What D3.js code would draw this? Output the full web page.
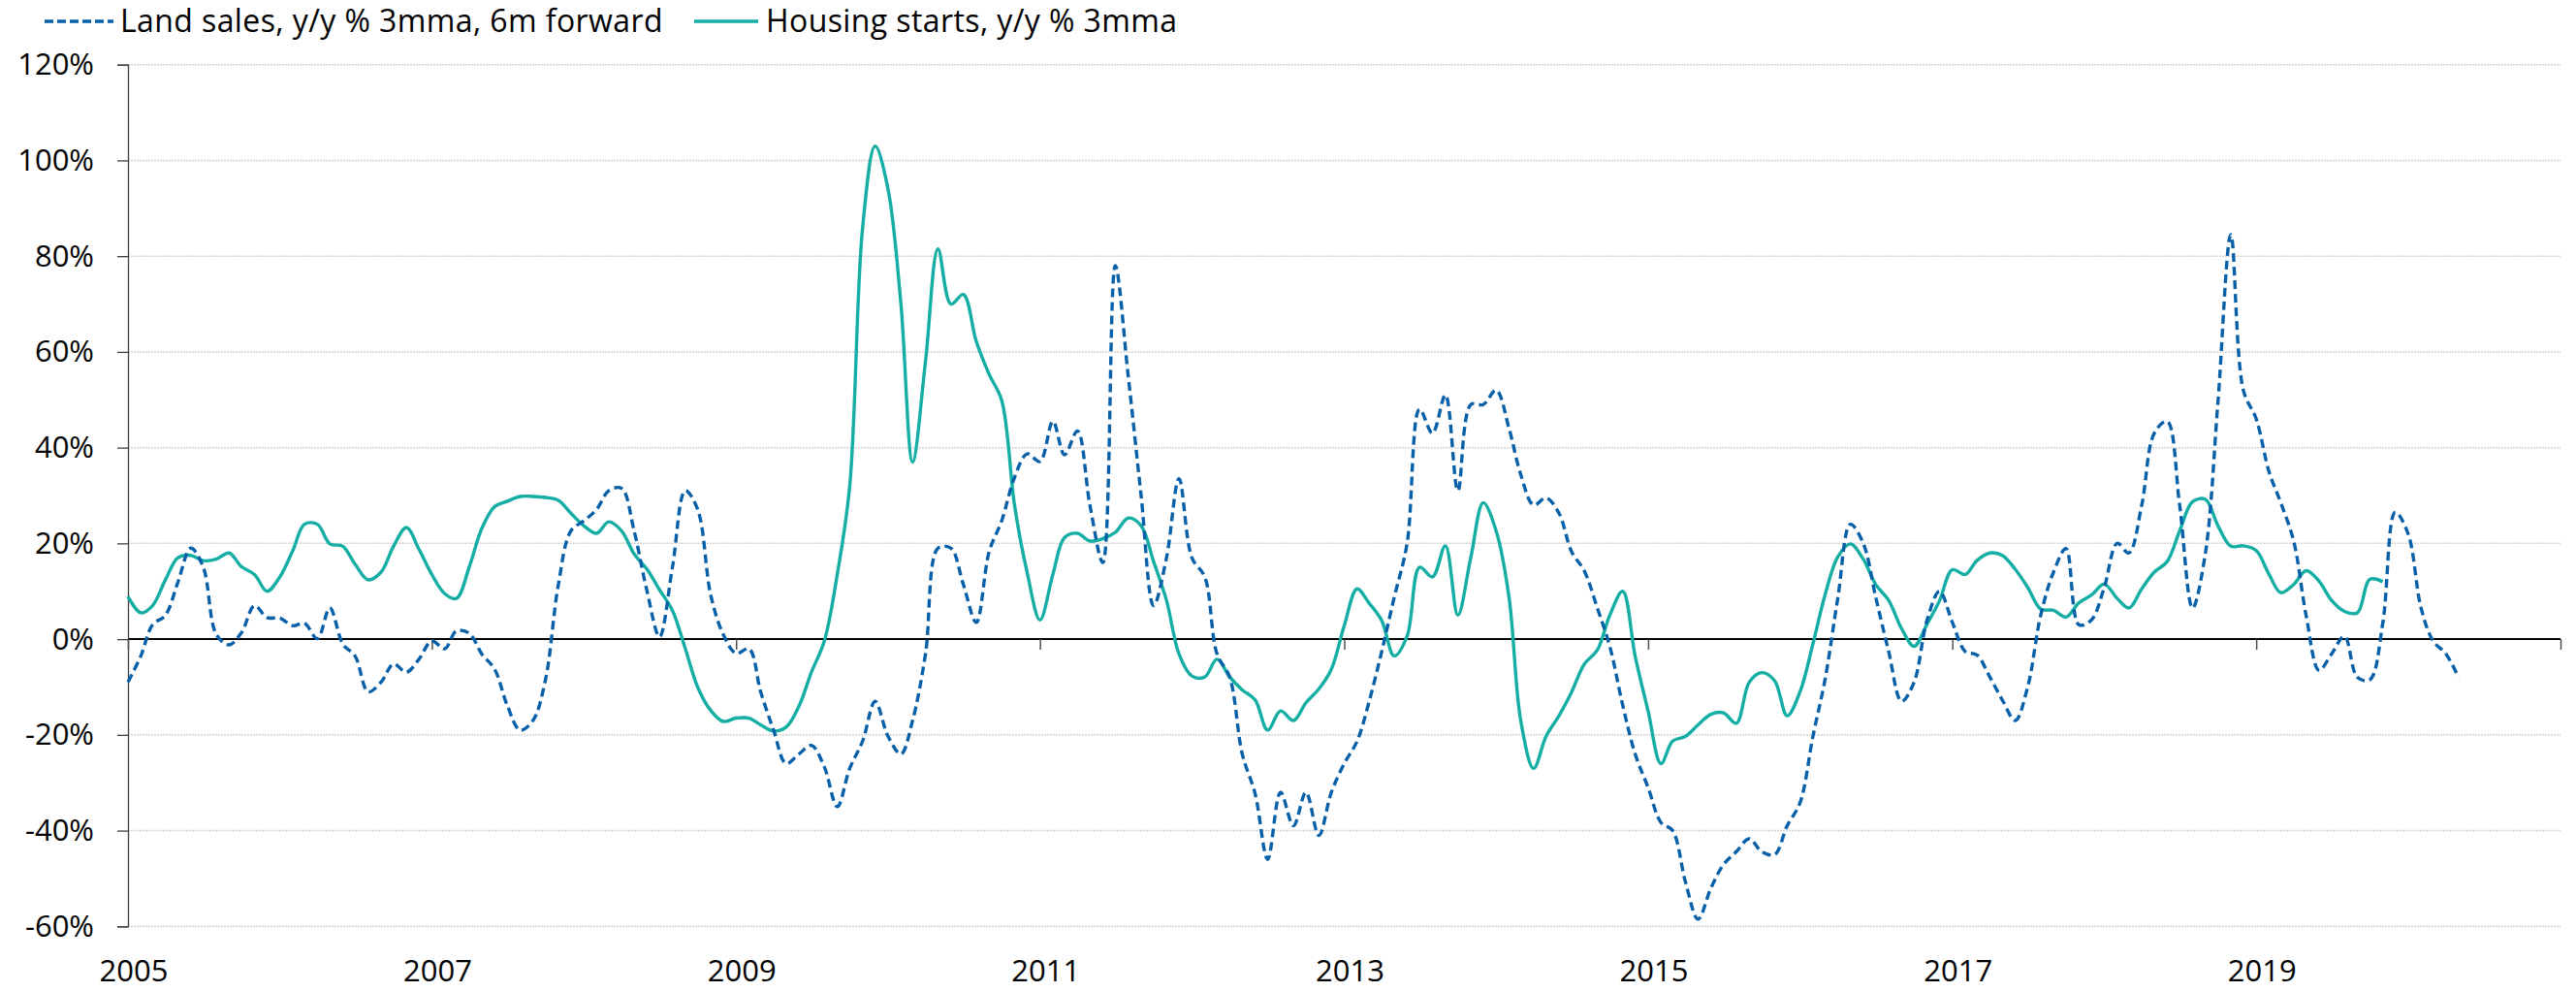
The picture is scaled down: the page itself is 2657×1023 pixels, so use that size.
<!DOCTYPE html>
<html>
<head>
<meta charset="utf-8">
<script src="https://cdn.jsdelivr.net/npm/d3@7"></script>
<style>
  body { margin: 0; background: #fff; }
  text { font-family: "Open Sans", Lato, sans-serif; fill: #000; }
</style>
</head>
<body>
<div id="chart"></div>
<script>
// monthly series, first value = Jan 2005
var startMonth = "2005-01-01";

var landSales = [
  -9.0, -3.5, 3.0, 5.0, 11.9, 19.0, 15.0, 1.0, -1.2, 1.4, 7.0, 4.5,
  4.4, 2.8, 3.3, 0.1, 6.5, -1.0, -3.6, -11.0, -9.0, -5.2, -6.9, -4.2,
  -0.4, -2.0, 1.7, 1.2, -3.1, -6.3, -13.8, -19.0, -17.0, -8.5, 11.4, 22.6,
  24.7, 27.1, 31.0, 31.5, 22.6, 10.0, 0.5, 15.0, 31.0, 27.0, 9.2, 1.0,
  -3.0, -2.0, -11.0, -19.0, -26.0, -24.0, -22.2, -26.7, -35.0, -27.0, -21.3, -13.0,
  -20.3, -24.0, -17.0, -3.1, 19.0, 19.0, 11.4, 3.5, 18.3, 24.7, 33.8, 38.7,
  37.1, 45.5, 38.5, 43.5, 28.0, 16.0, 78.0, 55.0, 30.0, 7.0, 17.0, 33.5,
  17.0, 13.0, -3.0, -8.0, -24.0, -32.3, -46.0, -32.0, -39.0, -32.0, -41.0, -32.0,
  -26.0, -21.3, -13.3, -2.6, 8.7, 20.0, 48.0, 43.0, 51.0, 31.0, 49.0, 49.0,
  52.0, 44.0, 34.4, 28.0, 29.5, 26.3, 18.3, 14.2, 6.5, -1.5, -13.8, -24.0,
  -31.0, -38.3, -40.0, -50.8, -58.5, -52.0, -47.1, -44.4, -41.7, -44.4, -45.0, -39.0,
  -34.2, -20.3, -8.5, 8.7, 24.0, 20.0, 8.7, -2.6, -13.0, -9.0, 3.9, 10.0,
  3.5, -2.6, -3.3, -7.9, -12.7, -17.0, -10.0, 4.9, 14.0, 18.9, 3.0, 4.0,
  10.8, 20.0, 18.0, 28.0, 43.0, 45.5, 28.0, 6.5, 18.0, 49.4, 84.5, 52.0,
  46.0, 34.9, 28.5, 20.5, 4.9, -6.5, -3.1, 0.6, -8.0, -8.5, 3.3, 26.5,
  22.0, 6.5, -0.4, -3.1, -8.0
];

var housingStarts = [
  8.9, 5.5, 7.0, 12.4, 17.0, 17.5, 16.4, 16.7, 18.0, 15.1, 13.5, 10.0,
  13.0, 18.5, 24.0, 24.0, 19.9, 19.4, 15.6, 12.4, 14.0, 19.4, 23.3, 18.8,
  13.5, 9.5, 8.5, 15.1, 23.1, 27.7, 28.8, 29.8, 29.8, 29.6, 29.0, 26.3,
  23.7, 22.1, 24.5, 22.6, 17.8, 14.6, 10.3, 6.0, -2.0, -10.1, -14.9, -17.2,
  -16.5, -16.5, -17.9, -19.2, -18.4, -14.0, -6.9, -0.4, 13.5, 32.0, 86.0, 103.0,
  94.0, 70.0, 37.0, 58.0, 81.5, 70.0, 72.0, 62.2, 55.3, 49.9, 27.9, 14.0,
  4.0, 13.5, 21.2, 22.1, 20.5, 21.0, 22.3, 25.3, 23.7, 16.2, 8.1, -3.1,
  -7.7, -7.9, -4.2, -7.9, -10.6, -12.7, -19.0, -15.0, -17.0, -13.3, -10.4, -6.3,
  2.8, 10.5, 7.6, 3.9, -3.5, 0.6, 15.0, 13.0, 19.5, 5.0, 17.0, 28.5,
  22.6, 8.7, -17.0, -27.0, -20.3, -16.0, -11.1, -5.2, -2.3, 5.0, 10.0, -3.6,
  -15.0, -26.0, -21.3, -20.3, -17.9, -15.7, -15.4, -17.6, -9.0, -7.0, -8.7, -16.0,
  -11.0, -1.0, 9.2, 17.2, 19.9, 16.7, 11.4, 8.1, 2.2, -1.5, 3.1, 8.0,
  14.5, 13.5, 16.4, 18.0, 17.5, 14.6, 10.8, 6.3, 6.0, 4.6, 7.6, 9.2,
  11.5, 8.5, 6.5, 10.5, 14.0, 16.2, 22.6, 28.7, 29.2, 23.7, 19.4, 19.5,
  18.5, 13.5, 9.7, 11.4, 14.3, 12.1, 8.1, 5.8, 5.5, 12.5, 12.0
];

var yTicks = [120, 100, 80, 60, 40, 20, 0, -20, -40, -60];
var xLabelYears = [2005, 2007, 2009, 2011, 2013, 2015, 2017, 2019];
var xTickYears = [2005, 2007, 2009, 2011, 2013, 2015, 2017, 2019, 2021];

var seriesNames = ["Land sales, y/y % 3mma, 6m forward", "Housing starts, y/y % 3mma"];

var width = 2657,
    height = 1023;

var blue = "#0860a8",
    teal = "#14aea4";

var start = new Date(startMonth);

function toPoints(values) {
    return values.map(function (v, i) {
        return { date: d3.utcMonth.offset(start, i), value: v };
    });
}

var x = d3.scaleUtc()
    .domain([new Date(Date.UTC(2005, 0, 1)), new Date(Date.UTC(2021, 0, 1))])
    .range([132, 2641]);

var y = d3.scaleLinear()
    .domain([-60, 120])
    .range([955.3, 66.7]);

var svg = d3.select("#chart")
    .append("svg")
    .attr("width", width)
    .attr("height", height);

// gridlines
svg.append("g")
    .selectAll("line")
    .data(yTicks.filter(function (d) { return d !== 0; }))
    .enter().append("line")
    .attr("x1", x.range()[0])
    .attr("x2", x.range()[1])
    .attr("y1", function (d) { return y(d); })
    .attr("y2", function (d) { return y(d); })
    .attr("stroke", "#d4d4d4")
    .attr("stroke-width", 1.5)
    .attr("stroke-dasharray", "2,1");

// y axis
var yAxis = d3.axisLeft(y)
    .tickValues(yTicks)
    .tickSize(11)
    .tickPadding(24)
    .tickFormat(function (d) { return d + "%"; });

var gy = svg.append("g")
    .attr("transform", "translate(" + x.range()[0] + ",0)")
    .call(yAxis);
gy.select(".domain").attr("stroke", "#404040").attr("stroke-width", 1.3);
gy.selectAll(".tick line").attr("stroke", "#404040").attr("stroke-width", 1.3);
gy.selectAll("text")
    .style("font-size", "31px")
    .attr("fill", "#000");

// x axis sits on the zero line
var xAxis = d3.axisBottom(x)
    .tickValues(xTickYears.map(function (yr) { return new Date(Date.UTC(yr, 0, 1)); }))
    .tickSize(11)
    .tickFormat("");

var gx = svg.append("g")
    .attr("transform", "translate(0," + y(0) + ")")
    .call(xAxis);
gx.select(".domain").attr("stroke", "#000").attr("stroke-width", 2)
    .attr("d", "M" + x.range()[0] + ",0H" + x.range()[1]);
gx.selectAll(".tick line").attr("stroke", "#505050").attr("stroke-width", 1.5);

svg.append("g")
    .selectAll("text")
    .data(xLabelYears)
    .enter().append("text")
    .attr("x", function (d) { return x(new Date(Date.UTC(d, 0, 1))) + 6; })
    .attr("y", 1012)
    .attr("text-anchor", "middle")
    .style("font-size", "31px")
    .text(function (d) { return d; });

// lines
var line = d3.line()
    .x(function (d) { return x(d.date); })
    .y(function (d) { return y(d.value); })
    .curve(d3.curveCatmullRom.alpha(0.5));

svg.append("path")
    .datum(toPoints(housingStarts))
    .attr("d", line)
    .attr("fill", "none")
    .attr("stroke", teal)
    .attr("stroke-width", 3.4)
    .attr("stroke-linejoin", "round");

svg.append("path")
    .datum(toPoints(landSales))
    .attr("d", line)
    .attr("fill", "none")
    .attr("stroke", blue)
    .attr("stroke-width", 3.4)
    .attr("stroke-dasharray", "9,5");

// legend
var legend = svg.append("g");
var legendItems = [
    { name: seriesNames[0], color: blue, dash: "9,4", x1: 46, x2: 117, tx: 124 },
    { name: seriesNames[1], color: teal, dash: null, x1: 716, x2: 782, tx: 790 }
];
legendItems.forEach(function (d) {
    legend.append("line")
        .attr("x1", d.x1).attr("x2", d.x2)
        .attr("y1", 22).attr("y2", 22)
        .attr("stroke", d.color)
        .attr("stroke-width", 3.4)
        .attr("stroke-dasharray", d.dash);
    legend.append("text")
        .attr("x", d.tx)
        .attr("y", 33)
        .style("font-size", "32px")
        .style("letter-spacing", "0.4px")
        .text(d.name);
});
</script>
</body>
</html>
